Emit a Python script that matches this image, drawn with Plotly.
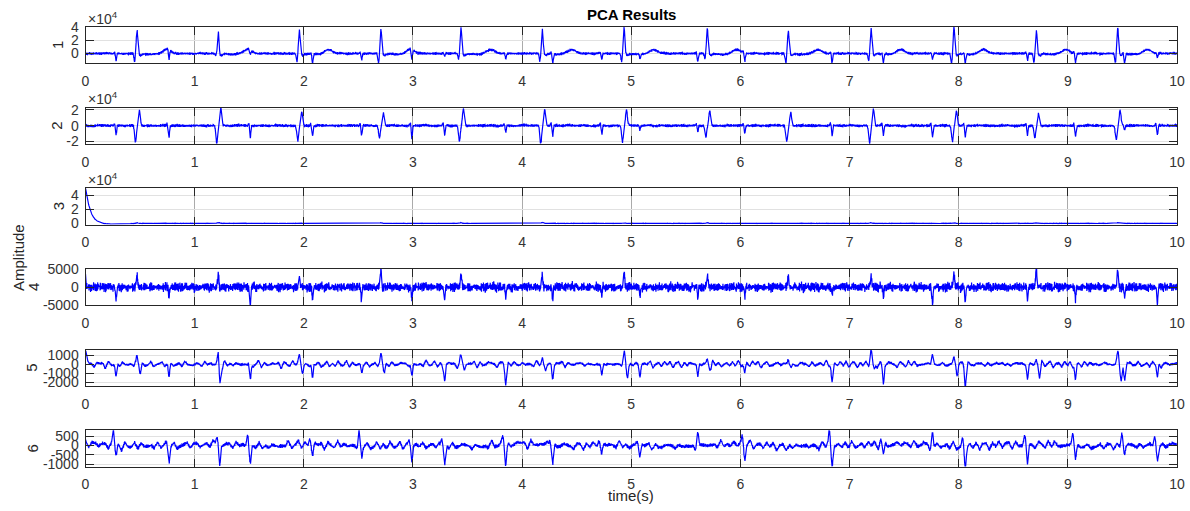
import numpy as np
import plotly.graph_objects as go

# ---------------------------------------------------------------- data
FS = 500                      # samples per second
DURATION = 10.0               # seconds
t = np.arange(int(DURATION * FS) + 1) / FS

# maternal R-peak instants (s)
maternal_t = [0.472, 1.217, 1.959, 2.707, 3.440, 4.185, 4.934,
              5.697, 6.439, 7.197, 7.957, 8.711, 9.457]
# fetal beat instants (s)
fetal_t = [0.28, 0.765, 1.23, 1.51, 2.08, 2.53, 2.99, 3.29, 3.85, 4.28, 4.73,
           5.08, 5.61, 6.04, 6.84, 7.31, 7.76, 8.06, 8.63, 9.07, 9.52, 9.82]

# component 1: maternal R height, Q dip, fetal dip
c1_r = [35500, 32000, 36000, 36000, 39000, 37000, 39000,
        37000, 34000, 39000, 39000, 35500, 39000]
c1_q = [-12500, -3000, -13500, -14000, -8000, -11000, -12500,
        -8000, -14500, -11000, -14500, -13500, -13500]
c1_f = [-11000, -14000, -4000, -6000, -14000, -10000, -13500, -5000, -7000,
        -14500, -9000, -6000, -11000, -12500, -14500, -12500, -8000, -14500,
        -11000, -14500, -14500, -6000]

# component 2: maternal negative / positive lobes, fetal dip
c2_neg = [-21000, -22500, -19500, -15500, -19500, -22500, -19500,
          -14500, -19500, -22500, -19500, -16500, -18500]
c2_pos = [19500, 22500, 17000, 16000, 21500, 20500, 19500,
          18500, 17500, 20500, 18500, 15500, 19500]
c2_f = [-12000, -15000, 0, -15000, -13000, -12000, -16000, -13000, -9000,
        -14000, -12000, -5000, -7000, -9000, -14000, -12000, -14000, -15000,
        -12000, -14000, -5000, -12000]

# component 3: start-up decay (time, value) and small maternal bumps
c3_knot_t = [0.0, 0.01, 0.02, 0.03, 0.04, 0.06, 0.08, 0.10, 0.13, 0.17,
             0.25, 0.35, 0.50]
c3_knot_v = [50300, 41000, 33500, 26000, 20500, 12500, 7500, 4300, 1800, 0,
             -800, -300, 300]
c3_bump = [800, 1500, 1000, 800, 1000, 1200, 1000, 1000, 800, 1000, 1200,
           900, 1000]

# component 4: maternal up-spikes, fetal down-spikes
c4_m = [3000, 3700, 3000, 4600, 3500, 3000, 4200, 3000, 3200, 3300, 3900,
        5000, 4100]
c4_f = [-3700, -2600, -1500, -4900, -3200, -3900, -3000, -3500, -3000, -3500,
        -2500, -2500, -3500, -3000, -2100, -2800, -4200, -4000, -3700, -3200,
        -3000, -4400]
c4_start = 3500

# component 5: maternal up / down lobes, fetal spikes
c5_up = [600, 1500, 1000, 1000, 800, 600, 1200, 600, 600, 1500, 600, 400, 1250]
c5_down = [-1000, -800, -1000, -1000, -600, -500, -1400, -500, -500, -700,
           -1100, -1400, -1750]
c5_f = [-1500, -1500, -2200, -1950, -1850, -1000, -1400, -1800, -1900, -1600,
        -1300, -1300, -1400, -900, -1950, -2050, 1000, -2350, -1600, -1750,
        -1750, -1600]
c5_start = 1600

# component 6: fetal main lobe and the lobe just before it
c6_f = [-600, -810, -1040, -890, -600, -800, -800, -1100, -1040, -1040, -500,
        -500, 730, -890, -950, -600, 780, -1100, -1100, -700, -400, -890]
c6_pre = [730, 300, 400, 600, 300, 750, 300, 300, 400, 400, 250, 250, -300,
          400, 750, 300, -300, 400, 400, 600, 700, 400]

# texture sequences for the trace noise
ripple_a = [0.3, -0.6, 0.9, -0.2, -0.8, 0.5, 0.1, -0.4, 0.7, -0.9, 0.2, 0.6,
            -0.3, -0.7, 0.8, -0.1, 0.4, -0.5, 0.95, -0.85, 0.15, 0.55, -0.65,
            0.35, -0.25, 0.75, -0.95, 0.05, 0.45, -0.35, 0.85, -0.75, 0.25,
            -0.15, 0.65, -0.55, 0.0, 0.9, -0.45, -0.2, 0.6, -0.8, 0.3, 0.1,
            -0.6, 0.7, -0.3]
ripple_b = [-0.4, 0.8, -0.1, 0.5, -0.9, 0.3, 0.6, -0.7, 0.2, -0.3, 0.9, -0.5,
            0.1, 0.7, -0.8, 0.4, -0.2, -0.6, 0.85, -0.15, 0.35, -0.95, 0.55,
            0.05, -0.45, 0.65, -0.25, 0.95, -0.75, 0.25, -0.05]

# axis settings per component
y_ranges = [[-14500, 40500], [-23000, 23000], [-1300, 50300],
            [-5050, 5150], [-2400, 1630], [-1130, 820]]
y_tickvals = [[0, 20000, 40000], [-20000, 0, 20000], [0, 20000, 40000],
              [-5000, 0, 5000], [-2000, -1000, 0, 1000], [-1000, -500, 0, 500]]
y_ticktext = [["0", "2", "4"], ["-2", "0", "2"], ["0", "2", "4"],
              ["-5000", "0", "5000"], ["-2000", "-1000", "0", "1000"],
              ["-1000", "-500", "0", "500"]]
x_ticks = list(range(0, 11))
comp_names = ["1", "2", "3", "4", "5", "6"]

# ---------------------------------------------------------------- signals
n = t.size
ra = np.array(ripple_a)
rb = np.array(ripple_b)


def pulse(center, width):
    return np.exp(-0.5 * ((t - center) / width) ** 2)


def jitter(shift):
    return 0.6 * np.resize(np.roll(ra, shift), n) + 0.4 * np.resize(np.roll(rb, shift), n)


def wander(step, shift):
    kt = np.arange(0, DURATION + step, step)
    kv = 0.6 * np.resize(np.roll(rb, shift), kt.size) + 0.4 * np.resize(np.roll(ra[::-1], shift), kt.size)
    return np.interp(t, kt, kv)


s1 = 2400 * jitter(0) + 600 * wander(0.05, 3)
for tk, r, q in zip(maternal_t, c1_r, c1_q):
    s1 += r * pulse(tk, 0.007) + q * pulse(tk - 0.022, 0.006)
    s1 += -2500 * pulse(tk + 0.032, 0.01) + 6000 * pulse(tk + 0.27, 0.035)
    s1 += -1200 * pulse(tk + 0.13, 0.06)
for tf, a in zip(fetal_t, c1_f):
    s1 += a * pulse(tf, 0.005) + 0.15 * abs(a) * pulse(tf - 0.014, 0.005)

s2 = 2200 * jitter(7) + 800 * wander(0.06, 11)
for tk, lo, hi in zip(maternal_t, c2_neg, c2_pos):
    s2 += lo * pulse(tk - 0.014, 0.008) + hi * pulse(tk + 0.022, 0.008)
for tf, a in zip(fetal_t, c2_f):
    s2 += a * pulse(tf, 0.005) + 0.2 * abs(a) * pulse(tf - 0.014, 0.005)

s3 = np.interp(t, c3_knot_t, c3_knot_v) + 300 * jitter(13)
for tk, b in zip(maternal_t, c3_bump):
    s3 += b * pulse(tk, 0.01)

s4 = 1500 * jitter(19) + 600 * wander(0.02, 5)
s4 += c4_start * pulse(0.0, 0.003)
for tk, a in zip(maternal_t, c4_m):
    s4 += a * pulse(tk, 0.006)
for tf, a in zip(fetal_t, c4_f):
    s4 += a * pulse(tf, 0.005)

s5 = 160 * jitter(23) + 500 * wander(0.026, 17)
s5 += c5_start * pulse(0.0, 0.012)
for tk, up, dn in zip(maternal_t, c5_up, c5_down):
    s5 += up * pulse(tk, 0.008) + dn * pulse(tk + 0.03, 0.008)
for tf, a in zip(fetal_t, c5_f):
    s5 += a * pulse(tf, 0.007)

s6 = 120 * jitter(29) + 290 * wander(0.03, 21) + 150 * wander(0.4, 9)
for tf, a, p in zip(fetal_t, c6_f, c6_pre):
    s6 += a * pulse(tf, 0.008) + p * pulse(tf - 0.025, 0.008)

signals = [s1, s2, s3, s4, s5, s6]

# ---------------------------------------------------------------- figure
W, H = 1190, 511
X0, X1 = 85.5, 1177.0
tops = [26.8, 107.5, 188.2, 268.9, 349.6, 430.3]
PH = 36.3
ink = "#262626"
FONT = "Liberation Sans, Arial, sans-serif"
tick_font = dict(family=FONT, size=14, color="#333333")

fig = go.Figure()
layout = dict(
    width=W, height=H, margin=dict(l=0, r=0, t=0, b=0, pad=0), autosize=False,
    paper_bgcolor="white", plot_bgcolor="white", showlegend=False,
)
for i, sig in enumerate(signals):
    k = "" if i == 0 else str(i + 1)
    fig.add_trace(go.Scatter(x=t, y=sig, mode="lines",
                             line=dict(color="#0000ff", width=1.2),
                             xaxis="x" + k, yaxis="y" + k, hoverinfo="skip"))
    top = tops[i]
    layout["xaxis" + k] = dict(
        domain=[X0 / W, X1 / W], anchor="y" + k, range=[0, 10],
        tickvals=x_ticks, ticktext=[str(v) for v in x_ticks],
        ticks="inside", ticklen=8, tickwidth=1, tickcolor=ink,
        mirror="allticks", showline=True, linecolor=ink, linewidth=1,
        showgrid=True, gridcolor="#ababab", gridwidth=1, zeroline=False,
        tickfont=tick_font, ticklabelstandoff=5, automargin=False,
    )
    layout["yaxis" + k] = dict(
        domain=[1 - (top + PH) / H, 1 - top / H], anchor="x" + k,
        range=y_ranges[i], tickvals=y_tickvals[i], ticktext=y_ticktext[i],
        ticks="inside", ticklen=8, tickwidth=1, tickcolor=ink,
        mirror="allticks", showline=True, linecolor=ink, linewidth=1,
        showgrid=True, gridcolor="#e1e1e1", gridwidth=1, zeroline=False,
        tickfont=tick_font, ticklabelstandoff=3, automargin=False,
    )
fig.update_layout(**layout)

label_font = dict(family=FONT, size=15, color="#262626")
ann = []


def px(x, y, text, **kw):
    d = dict(x=x / W, y=1 - y / H, xref="paper", yref="paper", text=text,
             showarrow=False, font=label_font, xanchor="center", yanchor="middle")
    d.update(kw)
    ann.append(d)


px(631, 14, "<b>PCA Results</b>", font=dict(family=FONT, size=15, color="black"))
px(631, 495, "time(s)")
ylab_x = [58, 57, 58, 33, 32, 32]
for i, name in enumerate(comp_names):
    px(ylab_x[i], tops[i] + PH / 2, name, textangle=-90)
px(18, 258, "Amplitude", textangle=-90)
for i in range(3):
    px(86, tops[i] - 9, "×10<sup>4</sup>", xanchor="left",
       font=dict(family=FONT, size=14, color="#333333"))
fig.update_layout(annotations=ann)

fig.write_html("out.html", config={"responsive": False},
               post_script="document.body.style.margin='0';document.body.style.overflow='hidden';")
